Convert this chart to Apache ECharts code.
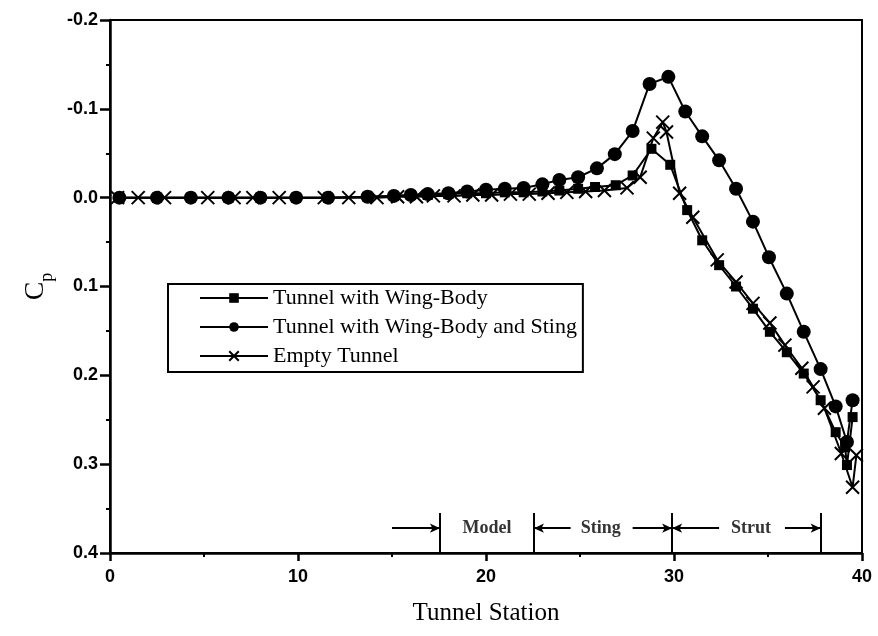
<!DOCTYPE html>
<html>
<head>
<meta charset="utf-8">
<script src="https://cdn.jsdelivr.net/npm/echarts@6/dist/echarts.min.js"></script>
<style>
html,body{margin:0;padding:0;background:#fff;}
#c{width:878px;height:636px;}
</style>
</head>
<body>
<div id="c"></div>
<script>
// ---- data ----
var seriesNames = ['Tunnel with Wing-Body', 'Tunnel with Wing-Body and Sting', 'Empty Tunnel'];

var wbX = [0.5, 2.5, 4.3, 6.3, 8.0, 9.9, 11.6, 13.7, 15.1, 16.0, 16.9, 18.0, 19.0, 20.0, 21.0, 22.0, 23.0, 23.9, 24.9, 25.8, 26.9, 27.8, 28.8, 29.8, 30.7, 31.5, 32.4, 33.3, 34.2, 35.1, 36.0, 36.9, 37.8, 38.6, 39.1, 39.2, 39.5];
var wbY = [0, 0, 0, 0, 0, 0, 0, -0.001, -0.002, -0.003, -0.003, -0.004, -0.005, -0.005, -0.006, -0.006, -0.007, -0.008, -0.010, -0.012, -0.014, -0.025, -0.055, -0.037, 0.014, 0.048, 0.076, 0.100, 0.125, 0.151, 0.174, 0.198, 0.228, 0.264, 0.281, 0.301, 0.247];

var wbsX = [0.5, 2.5, 4.3, 6.3, 8.0, 9.9, 11.6, 13.7, 15.1, 16.0, 16.9, 18.0, 19.0, 20.0, 21.0, 22.0, 23.0, 23.9, 24.9, 25.9, 26.85, 27.8, 28.7, 29.7, 30.6, 31.5, 32.4, 33.3, 34.2, 35.05, 36.0, 36.9, 37.8, 38.6, 39.2, 39.5];
var wbsY = [0, 0, 0, 0, 0, 0, 0, -0.001, -0.002, -0.003, -0.004, -0.005, -0.007, -0.009, -0.010, -0.011, -0.015, -0.020, -0.023, -0.033, -0.049, -0.075, -0.128, -0.136, -0.097, -0.069, -0.042, -0.010, 0.027, 0.067, 0.108, 0.151, 0.193, 0.235, 0.275, 0.228];

var etX = [0.4, 1.5, 2.9, 5.2, 6.6, 7.6, 9.0, 11.4, 12.7, 14.2, 15.3, 16.3, 17.2, 18.3, 19.3, 20.3, 21.3, 22.3, 23.3, 24.3, 25.3, 26.3, 27.5, 28.2, 28.9, 29.4, 29.6, 30.3, 31.0, 32.3, 33.3, 34.2, 35.1, 35.9, 36.8, 37.4, 38.0, 38.9, 39.5, 39.7];
var etY = [0, 0, 0, 0, 0, 0, 0, 0, 0, 0, -0.001, -0.001, -0.002, -0.002, -0.003, -0.003, -0.004, -0.004, -0.005, -0.006, -0.007, -0.008, -0.011, -0.023, -0.067, -0.085, -0.074, -0.005, 0.022, 0.070, 0.095, 0.119, 0.141, 0.166, 0.192, 0.213, 0.237, 0.288, 0.326, 0.290];

var xTicks = [0, 10, 20, 30, 40];
var yTicks = [-0.2, -0.1, 0.0, 0.1, 0.2, 0.3, 0.4];

// region annotations (tunnel station boundaries)
var regionBounds = [17.55, 22.55, 29.9, 37.8];
var regionLabels = ['Model', 'Sting', 'Strut'];
var regionLabelX = [20.05, 26.1, 34.1];
var arrowSegs = [[15.0, 17.55], [24.5, 22.55], [27.8, 29.9], [32.4, 29.9], [35.9, 37.8]];
var annoTop = 0.355, annoArrowY = 0.372;

function zip(xs, ys) { return xs.map(function (x, i) { return [x, ys[i]]; }); }

var chart = echarts.init(document.getElementById('c'));
var serif = 'Liberation Serif';
var sans = 'Liberation Sans';

var markLines = [];
regionBounds.forEach(function (b) {
  markLines.push([{ coord: [b, annoTop], symbol: 'none' }, { coord: [b, 0.4], symbol: 'none' }]);
});
arrowSegs.forEach(function (s) {
  markLines.push([{ coord: [s[0], annoArrowY], symbol: 'none' }, { coord: [s[1], annoArrowY], symbol: 'arrow', symbolSize: [7, 10] }]);
});

var option = {
  animation: false,
  backgroundColor: '#fff',
  grid: { left: 110, right: 16, top: 20, bottom: 83, show: true, borderColor: '#000', borderWidth: 2, backgroundColor: 'transparent' },
  xAxis: {
    type: 'value', min: xTicks[0], max: xTicks[xTicks.length - 1], interval: 10,
    axisLine: { onZero: false, lineStyle: { color: '#000', width: 2.5 } },
    axisTick: { length: 8, lineStyle: { color: '#000', width: 2.5 } },
    minorTick: { show: true, splitNumber: 2, length: 4, lineStyle: { color: '#000', width: 2 } },
    splitLine: { show: false },
    axisLabel: { color: '#000', fontFamily: sans, fontSize: 18, fontWeight: 'bold', margin: 15 },
    name: 'Tunnel Station', nameLocation: 'middle', nameGap: 48,
    nameTextStyle: { color: '#000', fontFamily: serif, fontSize: 25 }
  },
  yAxis: {
    type: 'value', min: yTicks[0], max: yTicks[yTicks.length - 1], interval: 0.1, inverse: true,
    axisLine: { onZero: false, lineStyle: { color: '#000', width: 2.5 } },
    axisTick: { length: 10, lineStyle: { color: '#000', width: 2.5 } },
    minorTick: { show: true, splitNumber: 2, length: 4, lineStyle: { color: '#000', width: 2 } },
    splitLine: { show: false },
    axisLabel: { color: '#000', fontFamily: sans, fontSize: 18, fontWeight: 'bold', margin: 12,
      formatter: function (v) { return (Math.abs(v) < 1e-9 ? 0 : v).toFixed(1); } },
    name: '{c|C}{p|p}', nameLocation: 'middle', nameGap: 58, nameRotate: 90,
    nameTextStyle: { rich: {
      c: { fontFamily: serif, fontSize: 28, color: '#000', verticalAlign: 'bottom' },
      p: { fontFamily: serif, fontSize: 18, color: '#000', verticalAlign: 'bottom', padding: [0, 0, -6, 0] }
    } }
  },
  legend: {
    data: seriesNames,
    orient: 'vertical', left: 168, top: 284,
    backgroundColor: '#fff', borderColor: '#000', borderWidth: 2, borderRadius: 0,
    padding: [3, 6, 5, 31], itemGap: 7, itemWidth: 68, itemHeight: 12,
    textStyle: { color: '#000', fontFamily: serif, fontSize: 22 }
  },
  series: [
    {
      name: seriesNames[0], type: 'line', data: zip(wbX, wbY), symbol: 'rect', symbolSize: 10,
      lineStyle: { color: '#000', width: 2 }, itemStyle: { color: '#000' }, z: 3
    },
    {
      name: seriesNames[1], type: 'line', data: zip(wbsX, wbsY), symbol: 'circle', symbolSize: 14,
      lineStyle: { color: '#000', width: 2 }, itemStyle: { color: '#000' }, z: 2
    },
    {
      name: seriesNames[2], type: 'line', data: zip(etX, etY), symbol: 'path://M0,0L10,10M10,0L0,10', symbolSize: 13,
      lineStyle: { color: '#000', width: 2 }, itemStyle: { color: '#000', borderColor: '#000', borderWidth: 2 }, z: 4
    },
    {
      name: 'annotations', type: 'scatter', silent: true, symbolSize: 0,
      data: regionLabelX.map(function (x, i) { return [x, annoArrowY, regionLabels[i]]; }),
      label: { show: true, position: 'inside', color: '#000', fontFamily: serif, fontSize: 18, fontWeight: 'bold',
        formatter: function (p) { return p.value[2]; } },
      markLine: { silent: true, animation: false, symbol: 'none', label: { show: false },
        lineStyle: { color: '#000', width: 2, type: 'solid' }, data: markLines }
    }
  ]
};
chart.setOption(option);
</script>
</body>
</html>
